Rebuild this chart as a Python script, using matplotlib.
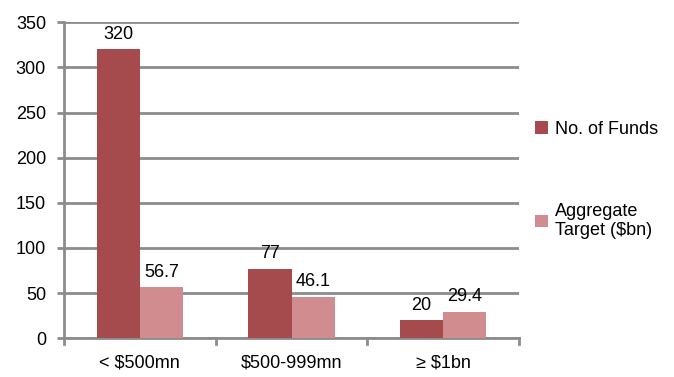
import matplotlib
matplotlib.use('Agg')
import matplotlib.pyplot as plt
import numpy as np

plt.rcParams['font.family'] = ['Liberation Sans', 'DejaVu Sans']

categories = ['< $500mn', '$500-999mn', '≥ $1bn']
no_of_funds = [320, 77, 20]
aggregate_target = [56.7, 46.1, 29.4]
series_names = ['No. of Funds', 'Aggregate\nTarget ($bn)']

dark_red = '#A54B4D'
light_red = '#D08C8F'
grid_gray = '#8C8C8C'
fs = 13

fig = plt.figure(figsize=(6.74, 3.77), dpi=100)
ax = fig.add_axes([0.095, 0.103, 0.675, 0.838])

x = np.arange(len(categories))
w = 0.285
b1 = ax.bar(x - w / 2, no_of_funds, w, color=dark_red, label=series_names[0], zorder=3)
b2 = ax.bar(x + w / 2, aggregate_target, w, color=light_red, label=series_names[1], zorder=3)

for rect, v in zip(b1, no_of_funds):
    ax.text(rect.get_x() + rect.get_width() / 2, v + 7, '%g' % v,
            ha='center', va='bottom', fontsize=fs)
for rect, v in zip(b2, aggregate_target):
    ax.text(rect.get_x() + rect.get_width() / 2, v + 7, '%g' % v,
            ha='center', va='bottom', fontsize=fs)

ax.set_xlim(-0.5, 2.5)
ax.set_ylim(0, 350)
ax.set_yticks(np.arange(0, 351, 50))
ax.set_xticks(x)
ax.set_xticklabels(categories, fontsize=fs)
ax.tick_params(axis='y', labelsize=fs, length=5, width=2, color=grid_gray, pad=8)
ax.tick_params(axis='x', length=0, pad=12)

# category separators on the x axis
for pos in [-0.5, 0.5, 1.5, 2.5]:
    ax.plot([pos, pos], [0, -0.018], transform=ax.get_xaxis_transform(),
            color=grid_gray, lw=2, clip_on=False, zorder=4)

ax.grid(axis='y', color=grid_gray, lw=2, zorder=0)
for side in ['top', 'right']:
    ax.spines[side].set_visible(False)
for side in ['left', 'bottom']:
    ax.spines[side].set_color(grid_gray)
    ax.spines[side].set_linewidth(2)

ax.legend(loc='upper left', bbox_to_anchor=(1.0, 0.74), frameon=False,
          fontsize=fs, handlelength=0.7, handleheight=0.7, handletextpad=0.4,
          labelspacing=3.6, borderaxespad=0.5)

fig.savefig('out.png', dpi=100)
plt.close('all')
